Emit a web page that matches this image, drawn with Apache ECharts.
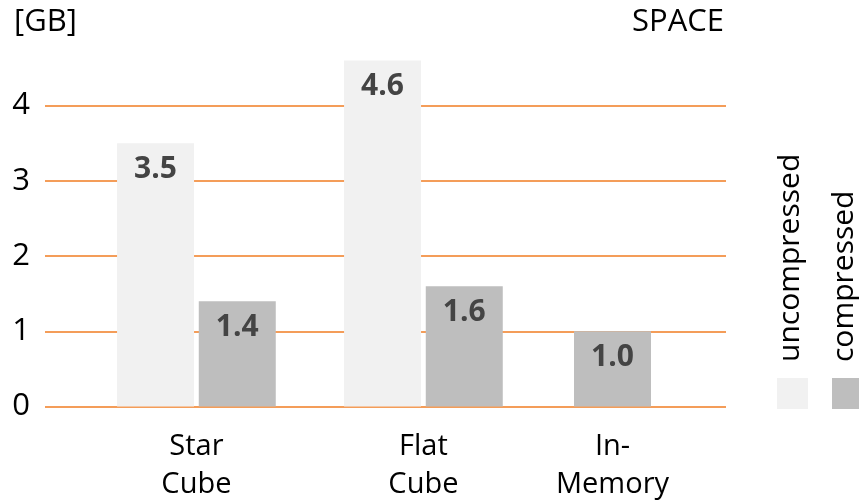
<!DOCTYPE html>
<html>
<head>
<meta charset="utf-8">
<script src="https://cdn.jsdelivr.net/npm/echarts@6/dist/echarts.min.js"></script>
<style>html,body{margin:0;padding:0;background:#fff}#c{width:859px;height:501px}</style>
</head>
<body>
<div id="c"></div>
<script>
// ---- data ----
var categories = ['Star\nCube', 'Flat\nCube', 'In-\nMemory'];
var categoryPos = [0.667, 1.667, 2.5];
var uncompressed = [3.5, 4.6, null];
var compressed = [1.4, 1.6, 1.0];
var yTicks = [0, 1, 2, 3, 4];
var seriesNames = ['uncompressed', 'compressed'];

var FONT = 'Open Sans';
var half = 0.18;
var uncData = [], compData = [];
for (var i = 0; i < categories.length; i++) {
  var paired = uncompressed[i] != null;
  if (paired) uncData.push([categoryPos[i] - half, uncompressed[i]]);
  compData.push([paired ? categoryPos[i] + half : categoryPos[i], compressed[i]]);
}

var labelStyle = {
  show: true, position: 'insideTop', distance: 11,
  color: '#444', fontFamily: FONT, fontWeight: 'bold', fontSize: 30,
  formatter: function (p) { return p.value[1].toFixed(1); }
};

var chart = echarts.init(document.getElementById('c'), null, {renderer: 'canvas'});
chart.setOption({
  animation: false,
  backgroundColor: '#fff',
  grid: {left: 45, right: 133, top: 105.6, bottom: 94.5, containLabel: false, outerBoundsMode: 'none'},
  xAxis: {
    type: 'value', min: 0, max: 3,
    axisLine: {show: false}, axisTick: {show: false}, splitLine: {show: false},
    axisLabel: {
      customValues: categoryPos,
      formatter: function (v) {
        var k = categoryPos.indexOf(v);
        return k >= 0 ? categories[k] : '';
      },
      color: '#000', fontFamily: FONT, fontSize: 29, lineHeight: 38, margin: 21
    }
  },
  yAxis: {
    type: 'value', min: yTicks[0], max: yTicks[yTicks.length - 1], interval: 1,
    axisLine: {show: false}, axisTick: {show: false},
    splitLine: {show: true, lineStyle: {color: '#f07c22', width: 1.5}},
    axisLabel: {color: '#000', fontFamily: FONT, fontSize: 31, margin: 15}
  },
  series: [
    {name: seriesNames[0], type: 'bar', data: uncData, barWidth: 77, barGap: '-100%', clip: false,
     itemStyle: {color: '#f1f1f1'}, label: labelStyle, z: 3},
    {name: seriesNames[1], type: 'bar', data: compData, barWidth: 77, barGap: '-100%', clip: false,
     itemStyle: {color: '#bebebe'}, label: labelStyle, z: 3}
  ],
  graphic: [
    {type: 'text', left: 14, top: 7, style: {text: '[GB]', font: '31px "Open Sans"', fill: '#000'}},
    {type: 'text', right: 135, top: 7, style: {text: 'SPACE', font: '31px "Open Sans"', fill: '#000'}},
    {type: 'rect', shape: {x: 777, y: 378, width: 31, height: 31}, style: {fill: '#f1f1f1'}},
    {type: 'rect', shape: {x: 832, y: 378, width: 31, height: 31}, style: {fill: '#bebebe'}},
    {type: 'text', x: 790, y: 362, rotation: Math.PI / 2,
     style: {text: seriesNames[0], font: '30px "Open Sans"', fill: '#000', align: 'left', verticalAlign: 'middle'}},
    {type: 'text', x: 844, y: 362, rotation: Math.PI / 2,
     style: {text: seriesNames[1], font: '30px "Open Sans"', fill: '#000', align: 'left', verticalAlign: 'middle'}}
  ]
});
</script>
</body>
</html>
